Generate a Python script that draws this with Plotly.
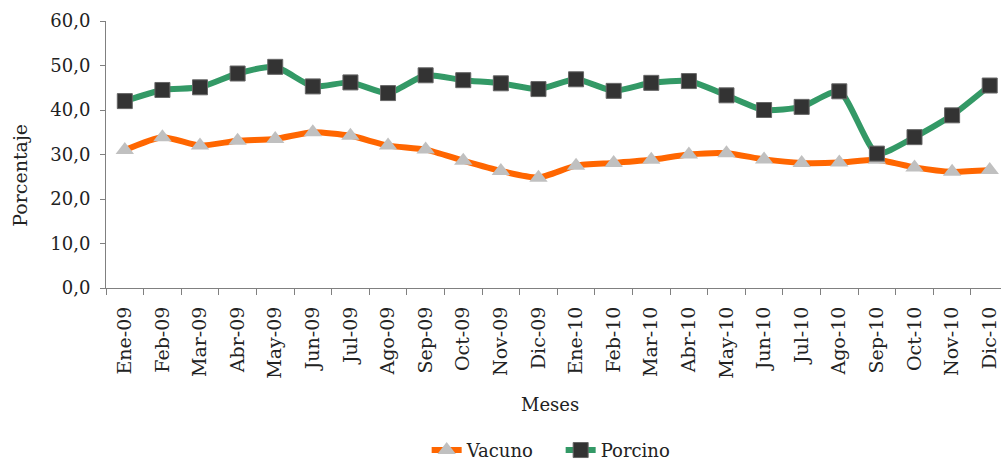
import plotly.graph_objects as go

meses = ["Ene-09", "Feb-09", "Mar-09", "Abr-09", "May-09", "Jun-09", "Jul-09", "Ago-09",
         "Sep-09", "Oct-09", "Nov-09", "Dic-09", "Ene-10", "Feb-10", "Mar-10", "Abr-10",
         "May-10", "Jun-10", "Jul-10", "Ago-10", "Sep-10", "Oct-10", "Nov-10", "Dic-10"]

vacuno = [31.0, 33.9, 32.0, 33.1, 33.5, 35.0, 34.2, 32.0, 31.1, 28.6, 26.3, 24.8,
          27.5, 28.1, 28.8, 30.0, 30.3, 28.9, 28.1, 28.2, 28.8, 27.1, 26.1, 26.5]

porcino = [42.0, 44.5, 45.1, 48.2, 49.7, 45.3, 46.2, 43.8, 47.8, 46.7, 46.0, 44.7,
           46.9, 44.3, 46.1, 46.5, 43.3, 40.0, 40.7, 44.2, 30.2, 33.9, 38.8, 45.5]

y_ticks = [0, 10, 20, 30, 40, 50, 60]

FONT = "DejaVu Serif"
TXT = "#222222"

fig = go.Figure()
fig.add_trace(go.Scatter(
    x=meses, y=vacuno, name="Vacuno", mode="lines+markers",
    line=dict(color="#FF6600", width=6, shape="spline", smoothing=0.6),
    marker=dict(symbol="triangle-up", size=16, color="#C0C0C0",
                line=dict(width=0)),
    cliponaxis=False,
))
fig.add_trace(go.Scatter(
    x=meses, y=porcino, name="Porcino", mode="lines+markers",
    line=dict(color="#339966", width=6, shape="spline", smoothing=0.6),
    marker=dict(symbol="square", size=15, color="#333333",
                line=dict(width=1, color="#666666")),
    cliponaxis=False,
))

fig.update_layout(
    width=1001, height=469,
    margin=dict(l=106, r=0, t=21, b=175),
    paper_bgcolor="white", plot_bgcolor="white",
    separators=",.",
    font=dict(family=FONT, size=18, color=TXT),
    showlegend=True,
    legend=dict(orientation="h", x=0.508, xanchor="center", y=-0.608, yanchor="middle",
                font=dict(family=FONT, size=18, color=TXT),
                entrywidth=89, entrywidthmode="pixels",
                bgcolor="rgba(0,0,0,0)"),
    annotations=[
        dict(text="Meses", xref="paper", yref="paper", x=0.496, y=-0.436,
             showarrow=False, xanchor="center", yanchor="middle",
             font=dict(family=FONT, size=18, color=TXT)),
        dict(text="Porcentaje", xref="paper", yref="paper", x=-0.096, y=0.421,
             showarrow=False, textangle=-90, xanchor="center", yanchor="middle",
             font=dict(family=FONT, size=19, color=TXT)),
    ],
)

fig.update_xaxes(
    type="category", range=[-0.5, 23.3], automargin=False,
    showline=True, linecolor="#808080", linewidth=1,
    ticks="outside", tickson="boundaries", ticklen=6, tickcolor="#808080",
    tickangle=-90, showgrid=False, zeroline=False, ticklabelstandoff=10,
    tickfont=dict(family=FONT, size=19, color=TXT),
)
fig.update_yaxes(
    range=[0, 60], tickvals=y_ticks, tickformat=".1f", automargin=False,
    showline=True, linecolor="#808080", linewidth=1,
    ticks="outside", ticklen=5, tickcolor="#808080",
    showgrid=False, zeroline=False, ticklabelstandoff=6,
    tickfont=dict(family=FONT, size=18, color=TXT),
)

fig.write_html("out.html", config={"displayModeBar": False},
               post_script="document.body.style.margin='0';")
